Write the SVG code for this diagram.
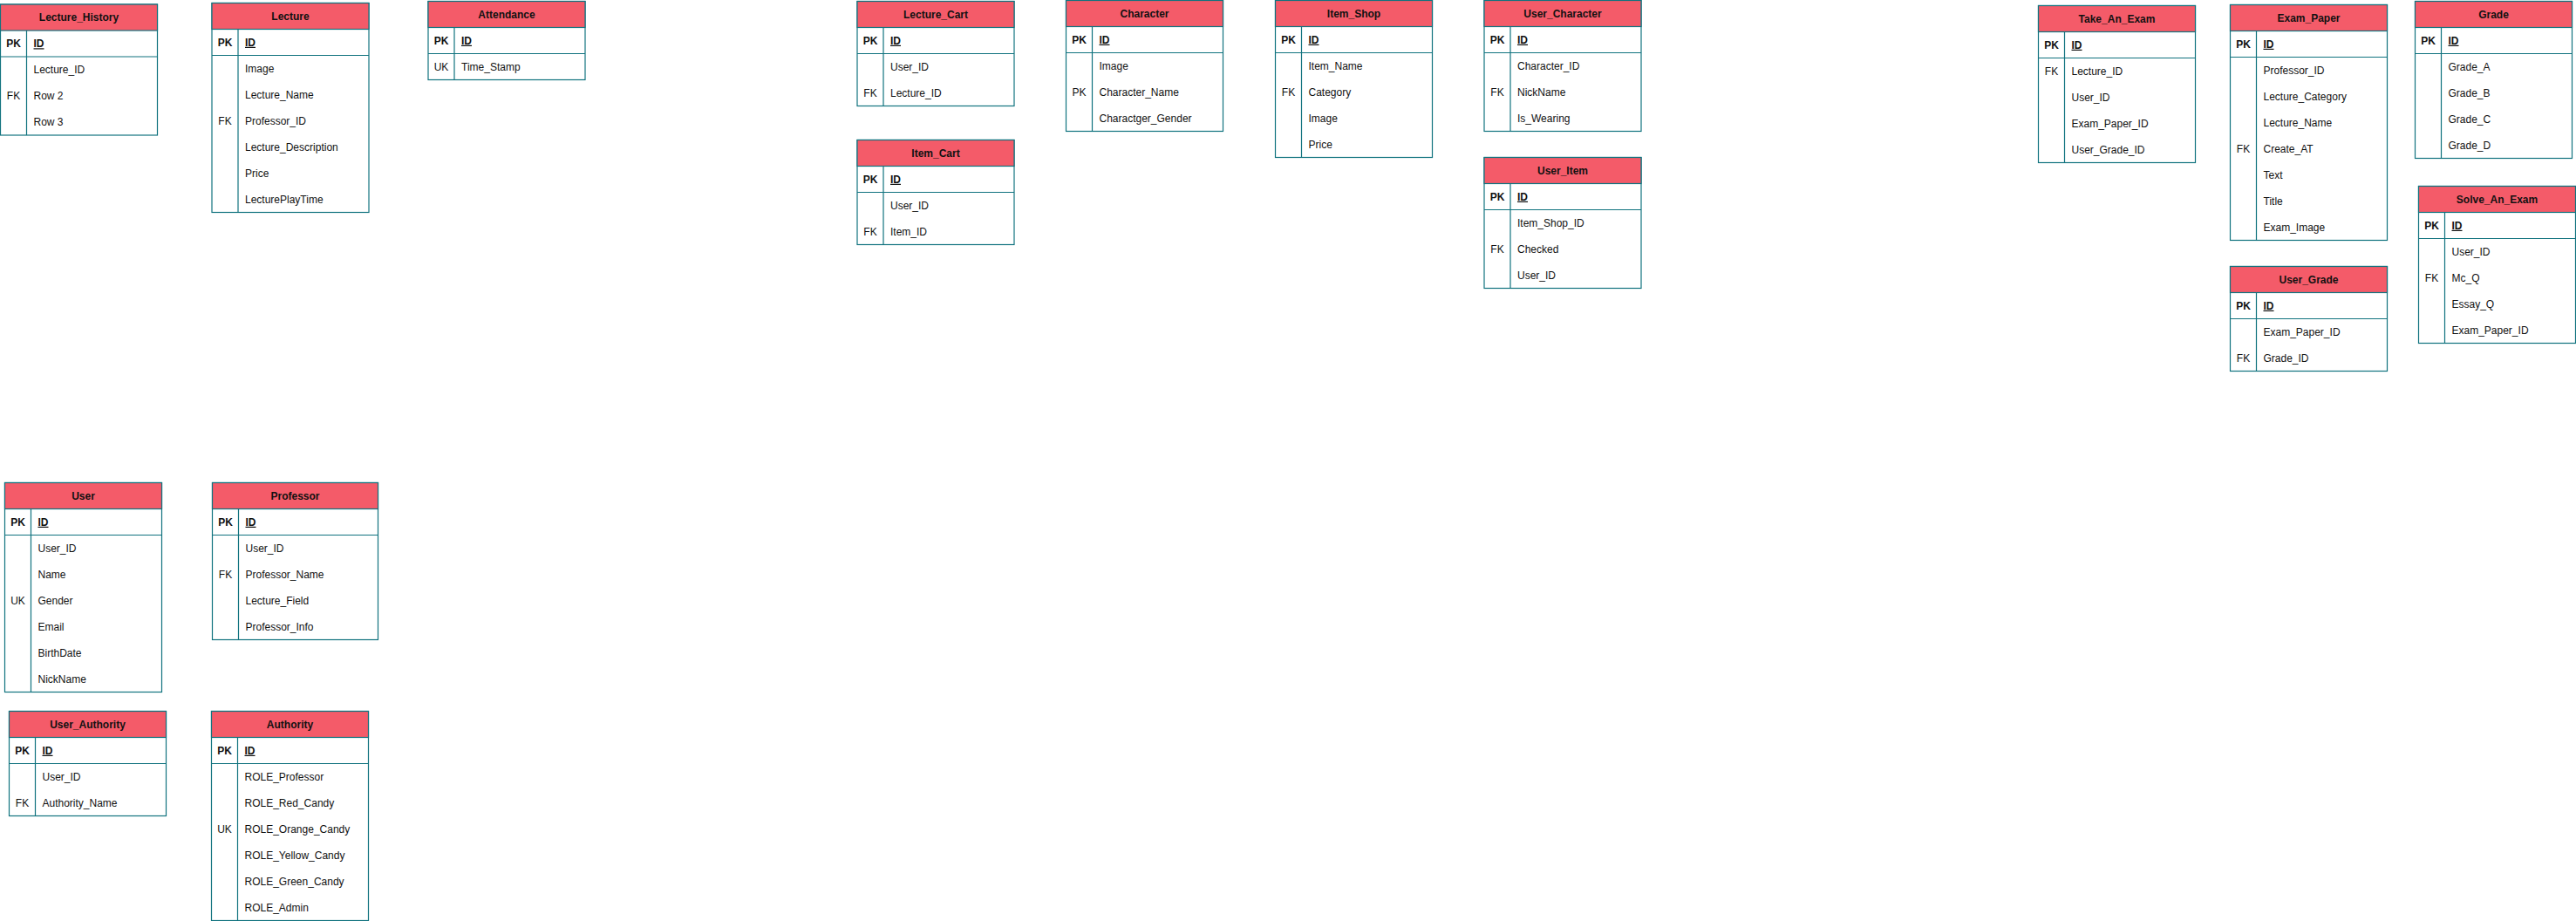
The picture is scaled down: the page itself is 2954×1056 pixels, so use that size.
<svg xmlns="http://www.w3.org/2000/svg" width="2954" height="1056" viewBox="0 0 2954 1056">
<style>
.bx{fill:#ffffff;stroke:#11737f;stroke-width:1.2}
.hd{fill:#F45B69;stroke:#11737f;stroke-width:1.2}
.ln{fill:none;stroke:#11737f;stroke-width:1.2}
text{font-family:"Liberation Sans",Arial,sans-serif;font-size:12px;fill:#111}
.th{font-weight:bold;text-anchor:middle}
.tk{text-anchor:middle}
.b{font-weight:bold}
.u{text-decoration:underline}
</style>
<rect width="2954" height="1056" fill="#ffffff"/>
<g id="connectors"/>

<g id="lecture_history" transform="translate(0.5,5)">
<rect class="bx" width="180" height="150"/><rect class="hd" width="180" height="30"/>
<path class="ln" d="M0 60H180M30 30V150"/>
<text class="th" x="90" y="19.3">Lecture_History</text>
<text class="tk b" x="15" y="49.3">PK</text><text class="b u" x="38" y="49.3">ID</text>
<text x="38" y="79.3">Lecture_ID</text>
<text class="tk" x="15" y="109.3">FK</text><text x="38" y="109.3">Row 2</text>
<text x="38" y="139.3">Row 3</text>
</g>

<g id="lecture" transform="translate(243,3.5)">
<rect class="bx" width="180" height="240"/><rect class="hd" width="180" height="30"/>
<path class="ln" d="M0 60H180M30 30V240"/>
<text class="th" x="90" y="19.3">Lecture</text>
<text class="tk b" x="15" y="49.3">PK</text><text class="b u" x="38" y="49.3">ID</text>
<text x="38" y="79.3">Image</text>
<text x="38" y="109.3">Lecture_Name</text>
<text class="tk" x="15" y="139.3">FK</text><text x="38" y="139.3">Professor_ID</text>
<text x="38" y="169.3">Lecture_Description</text>
<text x="38" y="199.3">Price</text>
<text x="38" y="229.3">LecturePlayTime</text>
</g>

<g id="attendance" transform="translate(491,1.5)">
<rect class="bx" width="180" height="90"/><rect class="hd" width="180" height="30"/>
<path class="ln" d="M0 60H180M30 30V90"/>
<text class="th" x="90" y="19.3">Attendance</text>
<text class="tk b" x="15" y="49.3">PK</text><text class="b u" x="38" y="49.3">ID</text>
<text class="tk" x="15" y="79.3">UK</text><text x="38" y="79.3">Time_Stamp</text>
</g>

<g id="lecture_cart" transform="translate(983,1.5)">
<rect class="bx" width="180" height="120"/><rect class="hd" width="180" height="30"/>
<path class="ln" d="M0 60H180M30 30V120"/>
<text class="th" x="90" y="19.3">Lecture_Cart</text>
<text class="tk b" x="15" y="49.3">PK</text><text class="b u" x="38" y="49.3">ID</text>
<text x="38" y="79.3">User_ID</text>
<text class="tk" x="15" y="109.3">FK</text><text x="38" y="109.3">Lecture_ID</text>
</g>

<g id="item_cart" transform="translate(983,160.5)">
<rect class="bx" width="180" height="120"/><rect class="hd" width="180" height="30"/>
<path class="ln" d="M0 60H180M30 30V120"/>
<text class="th" x="90" y="19.3">Item_Cart</text>
<text class="tk b" x="15" y="49.3">PK</text><text class="b u" x="38" y="49.3">ID</text>
<text x="38" y="79.3">User_ID</text>
<text class="tk" x="15" y="109.3">FK</text><text x="38" y="109.3">Item_ID</text>
</g>

<g id="character" transform="translate(1222.5,0.5)">
<rect class="bx" width="180" height="150"/><rect class="hd" width="180" height="30"/>
<path class="ln" d="M0 60H180M30 30V150"/>
<text class="th" x="90" y="19.3">Character</text>
<text class="tk b" x="15" y="49.3">PK</text><text class="b u" x="38" y="49.3">ID</text>
<text x="38" y="79.3">Image</text>
<text class="tk" x="15" y="109.3">PK</text><text x="38" y="109.3">Character_Name</text>
<text x="38" y="139.3">Charactger_Gender</text>
</g>

<g id="item_shop" transform="translate(1462.5,0.5)">
<rect class="bx" width="180" height="180"/><rect class="hd" width="180" height="30"/>
<path class="ln" d="M0 60H180M30 30V180"/>
<text class="th" x="90" y="19.3">Item_Shop</text>
<text class="tk b" x="15" y="49.3">PK</text><text class="b u" x="38" y="49.3">ID</text>
<text x="38" y="79.3">Item_Name</text>
<text class="tk" x="15" y="109.3">FK</text><text x="38" y="109.3">Category</text>
<text x="38" y="139.3">Image</text>
<text x="38" y="169.3">Price</text>
</g>

<g id="user_character" transform="translate(1702,0.5)">
<rect class="bx" width="180" height="150"/><rect class="hd" width="180" height="30"/>
<path class="ln" d="M0 60H180M30 30V150"/>
<text class="th" x="90" y="19.3">User_Character</text>
<text class="tk b" x="15" y="49.3">PK</text><text class="b u" x="38" y="49.3">ID</text>
<text x="38" y="79.3">Character_ID</text>
<text class="tk" x="15" y="109.3">FK</text><text x="38" y="109.3">NickName</text>
<text x="38" y="139.3">Is_Wearing</text>
</g>

<g id="user_item" transform="translate(1702,180.5)">
<rect class="bx" width="180" height="150"/><rect class="hd" width="180" height="30"/>
<path class="ln" d="M0 60H180M30 30V150"/>
<text class="th" x="90" y="19.3">User_Item</text>
<text class="tk b" x="15" y="49.3">PK</text><text class="b u" x="38" y="49.3">ID</text>
<text x="38" y="79.3">Item_Shop_ID</text>
<text class="tk" x="15" y="109.3">FK</text><text x="38" y="109.3">Checked</text>
<text x="38" y="139.3">User_ID</text>
</g>

<g id="take_an_exam" transform="translate(2337.5,6.5)">
<rect class="bx" width="180" height="180"/><rect class="hd" width="180" height="30"/>
<path class="ln" d="M0 60H180M30 30V180"/>
<text class="th" x="90" y="19.3">Take_An_Exam</text>
<text class="tk b" x="15" y="49.3">PK</text><text class="b u" x="38" y="49.3">ID</text>
<text class="tk" x="15" y="79.3">FK</text><text x="38" y="79.3">Lecture_ID</text>
<text x="38" y="109.3">User_ID</text>
<text x="38" y="139.3">Exam_Paper_ID</text>
<text x="38" y="169.3">User_Grade_ID</text>
</g>

<g id="exam_paper" transform="translate(2557.5,5.5)">
<rect class="bx" width="180" height="270"/><rect class="hd" width="180" height="30"/>
<path class="ln" d="M0 60H180M30 30V270"/>
<text class="th" x="90" y="19.3">Exam_Paper</text>
<text class="tk b" x="15" y="49.3">PK</text><text class="b u" x="38" y="49.3">ID</text>
<text x="38" y="79.3">Professor_ID</text>
<text x="38" y="109.3">Lecture_Category</text>
<text x="38" y="139.3">Lecture_Name</text>
<text class="tk" x="15" y="169.3">FK</text><text x="38" y="169.3">Create_AT</text>
<text x="38" y="199.3">Text</text>
<text x="38" y="229.3">Title</text>
<text x="38" y="259.3">Exam_Image</text>
</g>

<g id="user_grade" transform="translate(2557.5,305.5)">
<rect class="bx" width="180" height="120"/><rect class="hd" width="180" height="30"/>
<path class="ln" d="M0 60H180M30 30V120"/>
<text class="th" x="90" y="19.3">User_Grade</text>
<text class="tk b" x="15" y="49.3">PK</text><text class="b u" x="38" y="49.3">ID</text>
<text x="38" y="79.3">Exam_Paper_ID</text>
<text class="tk" x="15" y="109.3">FK</text><text x="38" y="109.3">Grade_ID</text>
</g>

<g id="grade" transform="translate(2769.5,1.5)">
<rect class="bx" width="180" height="180"/><rect class="hd" width="180" height="30"/>
<path class="ln" d="M0 60H180M30 30V180"/>
<text class="th" x="90" y="19.3">Grade</text>
<text class="tk b" x="15" y="49.3">PK</text><text class="b u" x="38" y="49.3">ID</text>
<text x="38" y="79.3">Grade_A</text>
<text x="38" y="109.3">Grade_B</text>
<text x="38" y="139.3">Grade_C</text>
<text x="38" y="169.3">Grade_D</text>
</g>

<g id="solve_an_exam" transform="translate(2773.5,213.5)">
<rect class="bx" width="180" height="180"/><rect class="hd" width="180" height="30"/>
<path class="ln" d="M0 60H180M30 30V180"/>
<text class="th" x="90" y="19.3">Solve_An_Exam</text>
<text class="tk b" x="15" y="49.3">PK</text><text class="b u" x="38" y="49.3">ID</text>
<text x="38" y="79.3">User_ID</text>
<text class="tk" x="15" y="109.3">FK</text><text x="38" y="109.3">Mc_Q</text>
<text x="38" y="139.3">Essay_Q</text>
<text x="38" y="169.3">Exam_Paper_ID</text>
</g>

<g id="user" transform="translate(5.5,553.5)">
<rect class="bx" width="180" height="240"/><rect class="hd" width="180" height="30"/>
<path class="ln" d="M0 60H180M30 30V240"/>
<text class="th" x="90" y="19.3">User</text>
<text class="tk b" x="15" y="49.3">PK</text><text class="b u" x="38" y="49.3">ID</text>
<text x="38" y="79.3">User_ID</text>
<text x="38" y="109.3">Name</text>
<text class="tk" x="15" y="139.3">UK</text><text x="38" y="139.3">Gender</text>
<text x="38" y="169.3">Email</text>
<text x="38" y="199.3">BirthDate</text>
<text x="38" y="229.3">NickName</text>
</g>

<g id="professor" transform="translate(243.5,553.5)">
<rect class="bx" width="190" height="180"/><rect class="hd" width="190" height="30"/>
<path class="ln" d="M0 60H190M30 30V180"/>
<text class="th" x="95" y="19.3">Professor</text>
<text class="tk b" x="15" y="49.3">PK</text><text class="b u" x="38" y="49.3">ID</text>
<text x="38" y="79.3">User_ID</text>
<text class="tk" x="15" y="109.3">FK</text><text x="38" y="109.3">Professor_Name</text>
<text x="38" y="139.3">Lecture_Field</text>
<text x="38" y="169.3">Professor_Info</text>
</g>

<g id="user_authority" transform="translate(10.5,815.5)">
<rect class="bx" width="180" height="120"/><rect class="hd" width="180" height="30"/>
<path class="ln" d="M0 60H180M30 30V120"/>
<text class="th" x="90" y="19.3">User_Authority</text>
<text class="tk b" x="15" y="49.3">PK</text><text class="b u" x="38" y="49.3">ID</text>
<text x="38" y="79.3">User_ID</text>
<text class="tk" x="15" y="109.3">FK</text><text x="38" y="109.3">Authority_Name</text>
</g>

<g id="authority" transform="translate(242.5,815.5)">
<rect class="bx" width="180" height="240"/><rect class="hd" width="180" height="30"/>
<path class="ln" d="M0 60H180M30 30V240"/>
<text class="th" x="90" y="19.3">Authority</text>
<text class="tk b" x="15" y="49.3">PK</text><text class="b u" x="38" y="49.3">ID</text>
<text x="38" y="79.3">ROLE_Professor</text>
<text x="38" y="109.3">ROLE_Red_Candy</text>
<text class="tk" x="15" y="139.3">UK</text><text x="38" y="139.3">ROLE_Orange_Candy</text>
<text x="38" y="169.3">ROLE_Yellow_Candy</text>
<text x="38" y="199.3">ROLE_Green_Candy</text>
<text x="38" y="229.3">ROLE_Admin</text>
</g>
</svg>
